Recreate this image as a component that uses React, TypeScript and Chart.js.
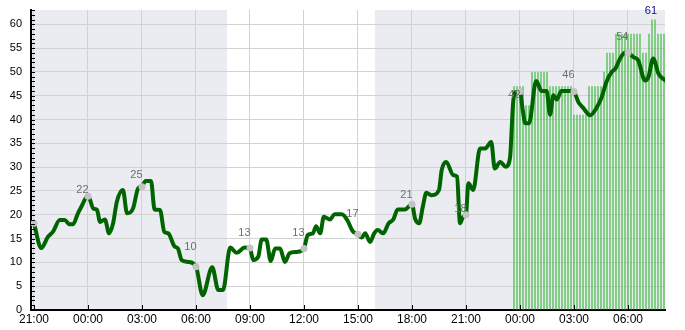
import React, { useEffect, useRef } from 'react';
import { Chart, registerables } from 'chart.js';
Chart.register(...registerables);

// x values are hours after 21:00 of the first day
const tickHours = [0, 3, 6, 9, 12, 15, 18, 21, 24, 27, 30, 33];
const tickLabels = ['21:00', '00:00', '03:00', '06:00', '09:00', '12:00', '15:00', '18:00', '21:00', '00:00', '03:00', '06:00'];
const yTicks = [0, 5, 10, 15, 20, 25, 30, 35, 40, 45, 50, 55, 60];

const lineHours = [
  0.0, 0.4, 0.78, 1.05, 1.43, 1.7, 1.98, 2.17, 2.44, 2.63, 3.0, 3.3, 3.5, 3.67, 3.94, 4.17, 4.4, 4.6, 4.94, 5.17,
  5.5, 5.78, 6.0, 6.2, 6.5, 6.7, 7.0, 7.24, 7.46, 7.8, 8.0, 8.2, 8.57, 9.0, 9.37, 9.9, 10.24, 10.5, 10.9, 11.26,
  11.7, 12.0, 12.18, 12.46, 12.65, 12.9, 13.15, 13.4, 13.67, 13.94, 14.2, 14.6, 15.0, 15.2, 15.5, 15.67, 15.9, 16.1, 16.44, 16.7,
  17.1, 17.4, 17.7, 18.0, 18.2, 18.4, 18.67, 18.9, 19.1, 19.4, 19.7, 19.96, 20.2, 20.6, 21.0, 21.17, 21.4, 21.6, 21.8, 22.1,
  22.5, 22.65, 22.9, 23.3, 23.5, 23.67, 23.85, 24.0, 24.13, 24.4, 24.78, 25.06, 25.4, 25.6, 25.9, 26.2, 26.44, 26.63, 26.8, 27.0,
  27.15, 27.3, 27.5, 27.9, 28.2, 28.48, 28.67, 28.85, 29.04, 29.3, 29.96, 30.24, 30.5, 30.9, 31.26, 31.54, 31.8, 32.1, 32.3, 32.56,
  32.83, 33.0, 33.3, 33.57, 33.94, 34.13, 34.4, 34.7, 35.06,
];
const lineValues = [
  18.2, 13.0, 15.4, 16.4, 18.9, 18.9, 18.0, 18.0, 20.3, 21.7, 24.0, 21.3, 21.0, 18.5, 19.0, 16.1, 18.3, 22.7, 25.2, 20.3,
  21.3, 25.5, 26.0, 27.1, 27.1, 21.1, 21.0, 16.4, 16.1, 13.4, 12.9, 10.5, 10.1, 9.1, 3.1, 9.0, 4.2, 4.2, 13.1, 12.0,
  13.1, 12.9, 10.5, 11.2, 14.8, 14.8, 10.3, 12.9, 12.9, 10.1, 11.9, 12.2, 12.9, 15.7, 16.1, 17.6, 16.1, 19.6, 19.0, 20.1,
  20.1, 18.9, 16.6, 15.9, 15.2, 16.1, 14.3, 16.1, 16.8, 16.1, 18.2, 19.0, 21.1, 21.1, 22.2, 19.2, 18.2, 21.7, 24.6, 24.1,
  25.2, 29.4, 31.1, 28.3, 28.0, 18.2, 19.6, 20.0, 26.6, 25.2, 33.9, 33.9, 35.3, 29.7, 31.1, 30.1, 31.8, 44.0, 45.8, 45.8,
  42.0, 39.2, 39.2, 48.1, 46.0, 46.0, 41.0, 45.1, 44.2, 46.0, 46.0, 43.7, 42.5, 40.9, 42.5, 44.7, 47.9, 50.0, 50.7, 52.8,
  54.0, 54.0, 53.1, 52.4, 48.2, 48.9, 52.8, 49.6, 48.2,
];

const markerHours = [0, 3, 6, 9, 12, 15, 18, 21, 24, 27, 30, 33];
const markerValues = [18.2, 23.9, 25.9, 9.1, 13.0, 12.9, 15.9, 22.2, 20.0, 45.9, 45.9, 54.0];
const markerLabels = ['', '22', '25', '10', '13', '13', '17', '21', '18', '42', '46', '54'];

// gust bars every 10 minutes starting 23:40 of the second day
const gustStartHour = 26 + 40 / 60;
const gustValues = [
  47, 47, 47, 47, 43, 43, 50, 50, 50, 50, 50, 50, 47, 47, 47, 47, 47, 47, 47, 47,
  41, 41, 41, 41, 41, 47, 47, 47, 47, 47, 50, 54, 54, 54, 58, 58, 58, 58, 58, 58,
  58, 58, 58, 54, 54, 58, 61, 61, 58, 58, 58,
];

const nightRanges = [[-1, 10.72], [18.94, 36]];

const X_MIN = -3 / 18;
const X_MAX = 35.056;

export default function App() {
  const ref = useRef<HTMLCanvasElement | null>(null);
  useEffect(() => {
    document.body.style.margin = '0';
    const canvas = ref.current;
    if (!canvas) return;

    const bgPlugin = {
      id: 'bg',
      beforeDraw(chart: any) {
        const { ctx, chartArea, scales } = chart;
        ctx.save();
        ctx.fillStyle = '#ffffff';
        ctx.fillRect(chartArea.left, chartArea.top, chartArea.right - chartArea.left, chartArea.bottom - chartArea.top);
        ctx.fillStyle = '#ebecf1';
        for (const [a, b] of nightRanges) {
          const x1 = Math.max(chartArea.left, scales.x.getPixelForValue(a));
          const x2 = Math.min(chartArea.right, scales.x.getPixelForValue(b));
          ctx.fillRect(x1, chartArea.top, x2 - x1, chartArea.bottom - chartArea.top);
        }
        ctx.restore();
      },
    };

    const ticksPlugin = {
      id: 'tickmarks',
      afterDraw(chart: any) {
        const { ctx, chartArea, scales } = chart;
        ctx.save();
        ctx.strokeStyle = '#000';
        ctx.lineWidth = 1;
        ctx.beginPath();
        for (let v = 0; v <= 63; v++) {
          const y = Math.round(scales.y.getPixelForValue(v)) + 0.5;
          ctx.moveTo(chartArea.left, y);
          ctx.lineTo(chartArea.left + 4, y);
        }
        for (const h of tickHours) {
          const x = Math.round(scales.x.getPixelForValue(h)) + 0.5;
          ctx.moveTo(x, chartArea.bottom);
          ctx.lineTo(x, chartArea.bottom - 5);
        }
        ctx.stroke();
        ctx.restore();
      },
    };

    const labelsPlugin = {
      id: 'labels',
      afterDatasetsDraw(chart: any) {
        const { ctx, scales } = chart;
        ctx.save();
        ctx.font = '11px "Liberation Sans", Arial, sans-serif';
        ctx.fillStyle = '#6e6e6e';
        ctx.textAlign = 'right';
        ctx.textBaseline = 'middle';
        markerLabels.forEach((lab, i) => {
          if (!lab) return;
          const x = scales.x.getPixelForValue(markerHours[i]);
          const y = scales.y.getPixelForValue(parseFloat(lab)) - 15.5;
          ctx.fillText(lab, x + 0.5, y);
        });
        let maxI = 0;
        gustValues.forEach((v, i) => { if (v > gustValues[maxI]) maxI = i; });
        const mx = scales.x.getPixelForValue(gustStartHour + maxI / 6);
        const my = scales.y.getPixelForValue(gustValues[maxI]) - 8.5;
        ctx.fillStyle = '#0a0a96';
        ctx.textAlign = 'center';
        ctx.fillText(String(gustValues[maxI]), mx - 1, my);
        ctx.restore();
      },
    };

    const chart = new Chart(canvas, {
      type: 'line',
      data: {
        datasets: [
          {
            type: 'scatter',
            data: markerHours.map((h, i) => ({ x: h, y: markerValues[i] })),
            backgroundColor: '#c3c3c3',
            borderWidth: 0,
            pointRadius: 3.5,
            order: 0,
          } as any,
          {
            type: 'line',
            data: lineHours.map((h, i) => ({ x: h, y: lineValues[i] })),
            borderColor: '#006400',
            borderWidth: 4,
            pointRadius: 0,
            cubicInterpolationMode: 'monotone',
            borderJoinStyle: 'round',
            borderCapStyle: 'round',
            fill: false,
            order: 1,
          } as any,
          {
            type: 'bar',
            data: gustValues.map((v, k) => ({ x: gustStartHour + k / 6, y: v })),
            backgroundColor: 'rgba(70,185,70,0.62)',
            borderWidth: 0,
            barThickness: 2,
            inflateAmount: 0,
            order: 2,
          } as any,
        ],
      },
      options: {
        animation: false,
        responsive: true,
        maintainAspectRatio: false,
        layout: { padding: { top: 10, right: 20, bottom: 0, left: 0 } },
        plugins: { legend: { display: false }, tooltip: { enabled: false } },
        scales: {
          x: {
            type: 'linear',
            min: X_MIN,
            max: X_MAX,
            offset: false,
            afterBuildTicks: (s: any) => { s.ticks = tickHours.map((v) => ({ value: v })); },
            afterFit: (s: any) => { s.height = 20; s.paddingLeft = 0; s.paddingRight = 0; },
            ticks: {
              autoSkip: false,
              maxRotation: 0,
              padding: 2,
              color: '#000',
              font: { family: '"Liberation Sans", Arial, sans-serif', size: 12 },
              callback: (_v: any, i: number) => tickLabels[i],
            },
            grid: { color: '#d2d2d2', drawTicks: false, offset: false },
            border: { color: '#000', width: 2 },
          },
          y: {
            type: 'linear',
            min: 0,
            max: 63,
            afterBuildTicks: (s: any) => { s.ticks = yTicks.map((v) => ({ value: v })); },
            afterFit: (s: any) => { s.width = 31; s.paddingTop = 0; s.paddingBottom = 0; },
            ticks: {
              padding: 9,
              color: '#000',
              font: { family: '"Liberation Sans", Arial, sans-serif', size: 11 },
              callback: (v: any) => String(v),
            },
            grid: { color: '#d2d2d2', drawTicks: false },
            border: { color: '#000', width: 2 },
          },
        },
      },
      plugins: [bgPlugin, ticksPlugin, labelsPlugin],
    });
    return () => chart.destroy();
  }, []);

  return (
    <div style={{ width: 685, height: 330, position: 'relative' }}>
      <canvas ref={ref} />
    </div>
  );
}
